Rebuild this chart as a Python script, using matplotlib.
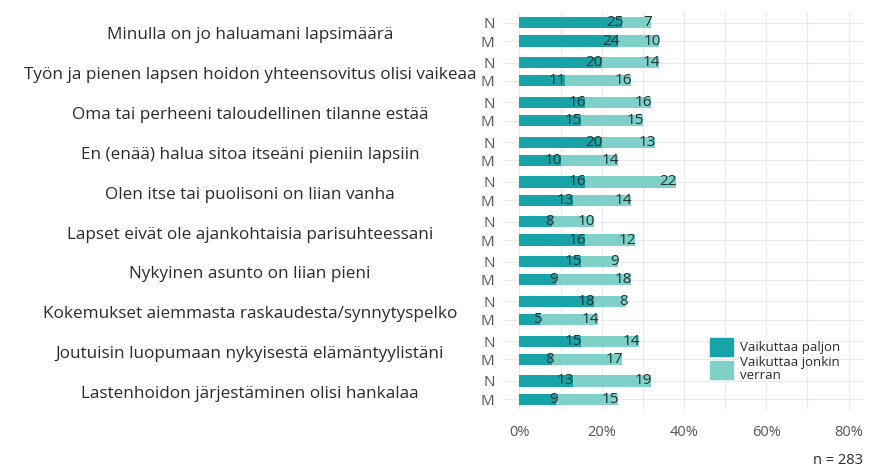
import matplotlib
matplotlib.use("Agg")
from matplotlib import pyplot as plt
from matplotlib.patches import Patch
import numpy as np

plt.rcParams['font.family'] = ['Open Sans', 'DejaVu Sans']

categories = [
    "Minulla on jo haluamani lapsimäärä",
    "Työn ja pienen lapsen hoidon yhteensovitus olisi vaikeaa",
    "Oma tai perheeni taloudellinen tilanne estää",
    "En (enää) halua sitoa itseäni pieniin lapsiin",
    "Olen itse tai puolisoni on liian vanha",
    "Lapset eivät ole ajankohtaisia parisuhteessani",
    "Nykyinen asunto on liian pieni",
    "Kokemukset aiemmasta raskaudesta/synnytyspelko",
    "Joutuisin luopumaan nykyisestä elämäntyylistäni",
    "Lastenhoidon järjestäminen olisi hankalaa",
]
group_labels = ["N", "M"]
n_paljon = [25, 20, 16, 20, 16, 8, 15, 18, 15, 13]
n_jonkin = [7, 14, 16, 13, 22, 10, 9, 8, 14, 19]
m_paljon = [24, 11, 15, 10, 13, 16, 9, 5, 8, 9]
m_jonkin = [10, 16, 15, 14, 14, 12, 18, 14, 17, 15]
series_names = ["Vaikuttaa paljon", "Vaikuttaa jonkin\nverran"]
xticks = [0, 20, 40, 60, 80]
n_total = 283

dark = "#17a3a7"
light = "#7fd0c9"
grid_c = "#ebebeb"
text_c = "#2b2b2b"

fig = plt.figure(figsize=(8.93, 4.76), dpi=100)
ax = fig.add_axes([503 / 893, 1 - 410 / 476, 360 / 893, 398 / 476])

idx = np.arange(len(categories))
off = 0.23
h = 0.28
ypos = []
ylab = []
for i in idx:
    ypos += [i - off, i + off]
    ylab += group_labels

for vals_a, vals_b, sgn in [(n_paljon, n_jonkin, -1), (m_paljon, m_jonkin, 1)]:
    y = idx + sgn * off
    a = np.array(vals_a)
    b = np.array(vals_b)
    ax.barh(y, a, height=h, color=dark, zorder=3)
    ax.barh(y, b, left=a, height=h, color=light, zorder=3)
    for yy, va, vb in zip(y, a, b):
        ax.text(va + 0.3, yy, str(va), ha='right', va='center', fontsize=11,
                color="#1f3535", zorder=4)
        ax.text(va + vb + 0.3, yy, str(vb), ha='right', va='center', fontsize=11,
                color="#1f3535", zorder=4)

ax.set_xlim(-4, 83.5)
ax.set_ylim(9.5, -0.5)
ax.set_xticks(xticks)
ax.set_xticklabels([f"{t}%" for t in xticks])
ax.set_xticks(np.arange(0, 81, 10), minor=True)
ax.set_yticks(ypos)
ax.set_yticklabels(ylab)
ax.grid(True, which='both', axis='x', color=grid_c, lw=0.8, zorder=0)
ax.grid(True, axis='y', color=grid_c, lw=0.8, zorder=0)
ax.tick_params(length=0, which='both', labelcolor="#555555")
ax.tick_params(axis='x', pad=11, labelsize=10.5)
ax.tick_params(axis='y', pad=6, labelsize=11)
for s in ax.spines.values():
    s.set_visible(False)

for i, c in enumerate(categories):
    fig.text(250 / 893, 1 - (33 + i * 39.9) / 476, c, ha='center',
             va='center_baseline', fontsize=12.3, color=text_c)

handles = [Patch(color=dark), Patch(color=light)]
leg = fig.legend(handles, series_names, loc='upper left',
                 bbox_to_anchor=(710 / 893, 1 - 338 / 476),
                 frameon=False, fontsize=9.5, handlelength=1.75, handleheight=1.75,
                 labelspacing=0.0, handletextpad=0.5, borderpad=0,
                 borderaxespad=0)
for t in leg.get_texts():
    t.set_linespacing(0.95)
    t.set_color(text_c)

fig.text(863 / 893, 1 - 460 / 476, f"n = {n_total}", ha='right', va='center',
         fontsize=10.5, color=text_c)

fig.savefig("out.png", dpi=100)
